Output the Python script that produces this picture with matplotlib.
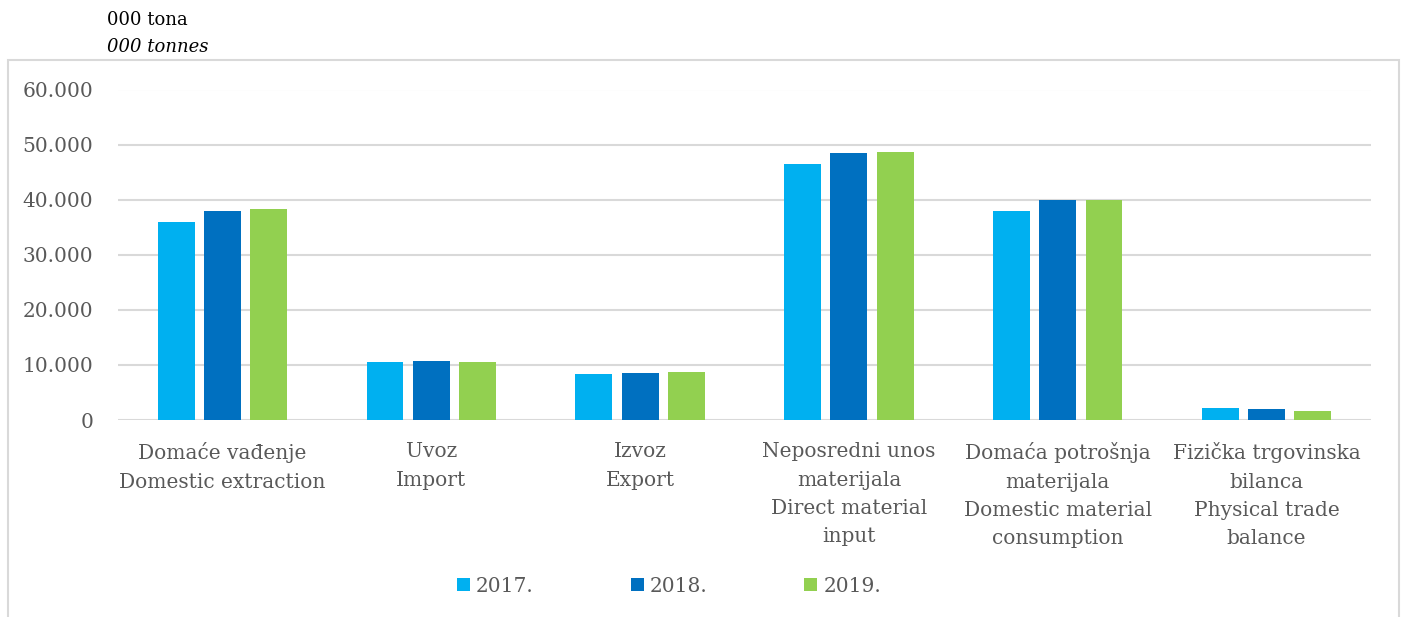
import numpy as np
import matplotlib
matplotlib.use("Agg")
import matplotlib.pyplot as plt
from matplotlib.patches import Rectangle

categories = [
    "Domaće vađenje\nDomestic extraction",
    "Uvoz\nImport",
    "Izvoz\nExport",
    "Neposredni unos\nmaterijala\nDirect material\ninput",
    "Domaća potrošnja\nmaterijala\nDomestic material\nconsumption",
    "Fizička trgovinska\nbilanca\nPhysical trade\nbalance",
]
years = ["2017.", "2018.", "2019."]
v2017 = [35900, 10600, 8400, 46400, 38000, 2200]
v2018 = [38000, 10700, 8600, 48500, 39900, 2000]
v2019 = [38300, 10500, 8800, 48700, 40000, 1700]
yticks = [0, 10000, 20000, 30000, 40000, 50000, 60000]
ytick_labels = ["0", "10.000", "20.000", "30.000", "40.000", "50.000", "60.000"]

colors = ["#00B0F0", "#0070C0", "#92D050"]
font = "DejaVu Serif"
gray = "#595959"

fig = plt.figure(figsize=(14.05, 6.17), dpi=100)
ax = fig.add_axes([118 / 1405, 1 - 420 / 617, (1371 - 118) / 1405, (420 - 89.5) / 617])

x = np.arange(len(categories))
step = 0.2215
width = 0.177
for i, (vals, yr) in enumerate(zip([v2017, v2018, v2019], years)):
    ax.bar(x + (i - 1) * step, vals, width=width, color=colors[i], label=yr, zorder=3)

ax.set_xlim(-0.5, len(categories) - 0.5)
ax.set_ylim(0, 60000)
ax.set_yticks(yticks)
ax.set_yticklabels(ytick_labels, family=font, fontsize=14.5, color=gray)
ax.set_xticks(x)
ax.set_xticklabels(categories, family=font, fontsize=14.5, color=gray, linespacing=1.62)
ax.tick_params(length=0)
ax.tick_params(axis="y", pad=18)
ax.tick_params(axis="x", pad=16)
ax.grid(axis="y", color="#d9d9d9", linewidth=1.5, zorder=0)
for s in ax.spines.values():
    s.set_visible(False)

fig.text(107 / 1405, 1 - 20 / 617, "000 tona", family=font, fontsize=13, va="center")
fig.text(107 / 1405, 1 - 47 / 617, "000 tonnes", family=font, fontsize=13, style="italic", va="center")

fig.patches.append(Rectangle((8 / 1405, -0.1), (1399 - 8) / 1405, 1 - 60 / 617 + 0.1,
                             transform=fig.transFigure, fill=False,
                             edgecolor="#d9d9d9", linewidth=1.5))

leg = fig.legend(loc="center", bbox_to_anchor=(669 / 1405, 1 - 586 / 617), ncol=3,
                 frameon=False, prop={"family": font, "size": 14.5},
                 handlelength=0.65, handleheight=0.65, handletextpad=0.3, columnspacing=4.8)
for t in leg.get_texts():
    t.set_color(gray)

fig.savefig("out.png", dpi=100)
